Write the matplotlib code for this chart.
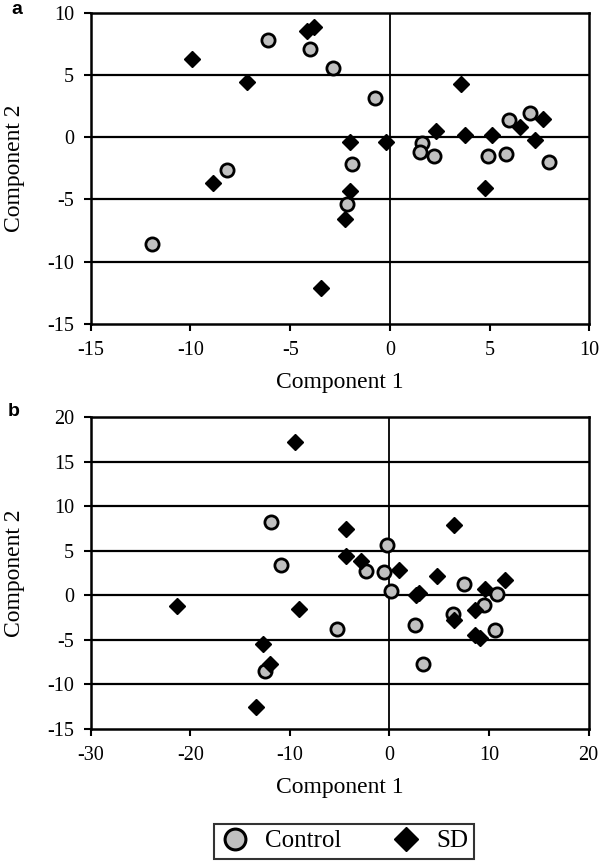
import matplotlib
matplotlib.use("Agg")
import matplotlib.pyplot as plt
from matplotlib.lines import Line2D

plt.rcParams['font.family'] = ['Liberation Serif', 'DejaVu Serif']
plt.rcParams['axes.unicode_minus'] = False

# Panel a data
a_control_x = [-6.12, -3.99, -2.86, -0.75, -8.17, -1.90, -2.17, -11.93,
               1.59, 1.50, 2.22, 4.91, 5.81, 5.98, 7.03, 7.99]
a_control_y = [7.82, 7.09, 5.59, 3.12, -2.60, -2.17, -5.38, -8.59,
               -0.43, -1.16, -1.48, -1.48, -1.37, 1.39, 1.98, -1.96]
a_sd_x = [-9.90, -7.18, -4.15, -3.78, -8.89, -2.02, -0.20, -2.02, -2.26, -3.47,
          3.56, 2.29, 3.76, 5.13, 4.76, 6.52, 7.69, 7.30]
a_sd_y = [6.29, 4.42, 8.54, 8.86, -3.67, -0.37, -0.38, -4.34, -6.53, -12.07,
          4.29, 0.53, 0.19, 0.19, -4.10, 0.85, 1.47, -0.22]

# Panel b data
b_control_x = [-11.92, -10.85, -5.23, -12.46, -0.19, -2.35, -0.58, 0.19,
               2.58, 3.42, 7.54, 6.35, 9.46, 10.81, 10.58]
b_control_y = [8.20, 3.37, -3.78, -8.54, 5.69, 2.70, 2.62, 0.52,
               -3.37, -7.67, 1.27, -2.10, -1.12, 0.19, -3.93]
b_sd_x = [-9.50, -21.35, -9.04, -12.73, -12.00, -13.35, -4.38, -4.38, -2.85,
          0.96, 4.77, 6.50, 2.70, 3.00, 6.50, 8.58, 9.65, 11.58, 8.58, 9.15]
b_sd_y = [17.26, -1.24, -1.50, -5.47, -7.67, -12.50, 7.41, 4.42, 3.86,
          2.88, 2.13, 7.94, 0.10, 0.30, -2.73, -1.61, 0.75, 1.76, -4.42, -4.79]

a_xticks = [-15, -10, -5, 0, 5, 10]
a_yticks = [-15, -10, -5, 0, 5, 10]
b_xticks = [-30, -20, -10, 0, 10, 20]
b_yticks = [-15, -10, -5, 0, 5, 10, 15, 20]

W, H = 600, 864
fig = plt.figure(figsize=(W / 100, H / 100), dpi=100)


def px_axes(l, t, r, b):
    return fig.add_axes([l / W, 1 - b / H, (r - l) / W, (b - t) / H])


def style(ax, xt, yt, cx, cy, sx, sy):
    ax.set_xlim(xt[0], xt[-1])
    ax.set_ylim(yt[0], yt[-1])
    ax.set_xticks(xt)
    ax.set_yticks(yt)
    ax.set_xticklabels([str(v) for v in xt])
    ax.set_yticklabels([str(v) for v in yt])
    for y in yt[1:-1]:
        ax.axhline(y, color='black', lw=1.6, zorder=1)
    ax.axvline(0, color='black', lw=1.3, zorder=1)
    for s in ax.spines.values():
        s.set_linewidth(1.8)
        s.set_color('black')
    ax.tick_params(direction='out', length=5, width=1.5, labelsize=14.5)
    ax.tick_params(axis='x', pad=7)
    ax.tick_params(axis='y', pad=7)
    ax.plot(cx, cy, 'o', ms=9.5, mfc='#c0c0c0', mec='black', mew=2,
            ls='none', zorder=3, clip_on=False)
    ax.plot(sx, sy, 'D', ms=8.2, mfc='black', mec='black', mew=1,
            ls='none', zorder=4, clip_on=False)
    ax.set_xlabel('Component 1', fontsize=17, labelpad=9)
    ax.set_ylabel('Component 2', fontsize=17, labelpad=16)


ax_a = px_axes(90.7, 12.7, 589.3, 324)
style(ax_a, a_xticks, a_yticks, a_control_x, a_control_y, a_sd_x, a_sd_y)
ax_b = px_axes(90.7, 417.3, 588.5, 729)
style(ax_b, b_xticks, b_yticks, b_control_x, b_control_y, b_sd_x, b_sd_y)

fig.text(17 / W, 1 - 10 / H, 'a', fontsize=14, fontweight='bold',
         family='Liberation Sans', ha='center', va='center')
fig.text(14 / W, 1 - 412 / H, 'b', fontsize=14, fontweight='bold',
         family='Liberation Sans', ha='center', va='center')

handles = [
    Line2D([], [], marker='o', ls='none', ms=15, mfc='#c0c0c0', mec='black', mew=2.2),
    Line2D([], [], marker='D', ls='none', ms=12, mfc='black', mec='black'),
]
leg = fig.legend(handles, ['Control', 'SD'], ncol=2, loc='center',
                 bbox_to_anchor=(344 / W, 1 - 841 / H), fontsize=18,
                 frameon=True, fancybox=False, edgecolor='black',
                 handletextpad=0.6, columnspacing=2.0, borderpad=0.25,
                 handlelength=1.2)
leg.get_frame().set_linewidth(1.5)

fig.savefig('out.png', dpi=100)
